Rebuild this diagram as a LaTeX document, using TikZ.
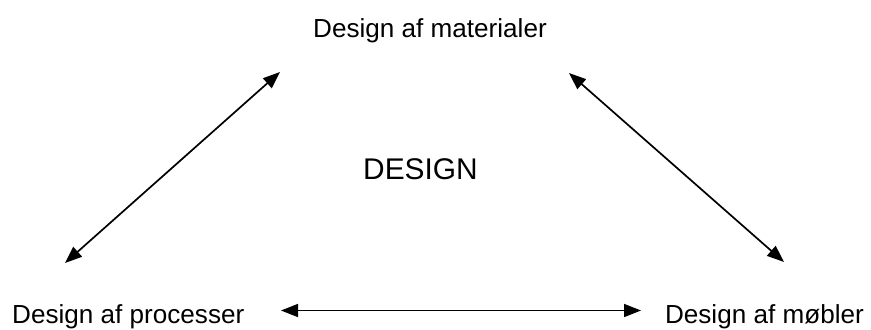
\documentclass[tikz,border=0pt]{standalone}
\usepackage{fontspec}
\setmainfont{Liberation Sans}
\usetikzlibrary{arrows.meta}
\begin{document}
\begin{tikzpicture}[x=1bp,y=-1bp,
  label/.style={inner sep=0pt,anchor=base,font=\fontsize{26.2}{30}\selectfont},
  link/.style={line width=1.7bp,{Triangle[length=17bp,width=13bp]}-{Triangle[length=17bp,width=13bp]}}]
  \useasboundingbox (0,0) rectangle (871,329);
  \node[label] (mat) at (430,37) {Design af materialer};
  \node[label,font=\fontsize{30}{34}\selectfont] (des) at (420.5,179) {DESIGN};
  \node[label,anchor=base west] (pro) at (12,323) {Design af processer};
  \node[label,anchor=base east] (mob) at (864,323) {Design af møbler};
  \coordinate (a1) at (280,72);
  \coordinate (a2) at (65,263);
  \coordinate (b1) at (569,73);
  \coordinate (b2) at (784,262);
  \coordinate (c1) at (281,310.5);
  \coordinate (c2) at (641,310.5);
  \draw[link] (a2) -- (a1);
  \draw[link] (b1) -- (b2);
  \draw[link] (c1) -- (c2);
\end{tikzpicture}
\end{document}
